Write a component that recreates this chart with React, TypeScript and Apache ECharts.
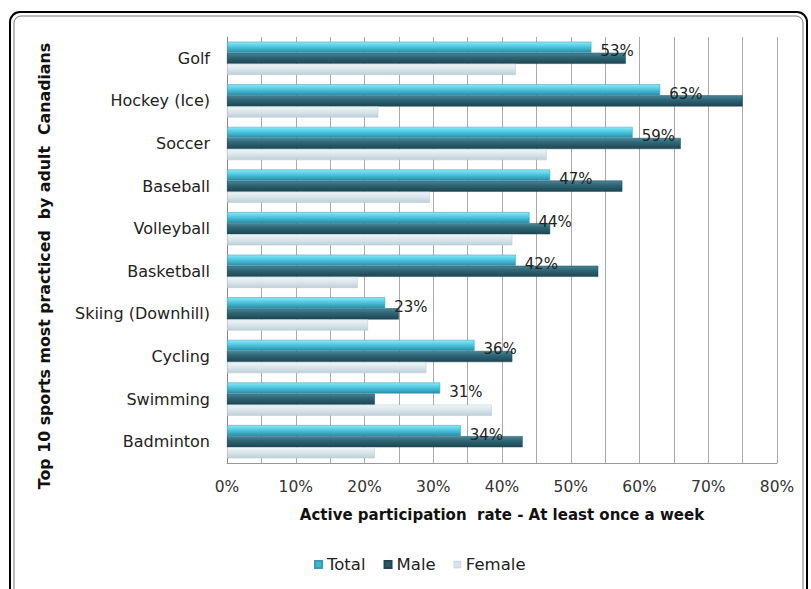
import React, { useEffect, useRef } from "react";
import * as echarts from "echarts";

const categories = [
  "Golf",
  "Hockey (Ice)",
  "Soccer",
  "Baseball",
  "Volleyball",
  "Basketball",
  "Skiing (Downhill)",
  "Cycling",
  "Swimming",
  "Badminton",
];
const totalValues = [53, 63, 59, 47, 44, 42, 23, 36, 31, 34];
const maleValues = [58, 75, 66, 57.5, 47, 54, 25, 41.5, 21.5, 43];
const femaleValues = [42, 22, 46.5, 29.5, 41.5, 19, 20.5, 29, 38.5, 21.5];
const seriesNames = ["Total", "Male", "Female"];
const yTitle = "Top 10 sports most practiced  by adult  Canadians";
const xTitle = "Active participation  rate - At least once a week";

const FONT = "DejaVu Sans, Verdana, sans-serif";

export default function App() {
  const ref = useRef<HTMLDivElement>(null);
  useEffect(() => {
    if (!ref.current) return;
    const chart = echarts.init(ref.current, undefined, { renderer: "svg" });
    const grad = (stops: [number, string][]) =>
      new echarts.graphic.LinearGradient(
        0,
        0,
        0,
        1,
        stops.map(([offset, color]) => ({ offset, color }))
      );
    const totalColor = grad([
      [0, "#8ae9f8"],
      [0.35, "#5acfe6"],
      [0.7, "#3cadc7"],
      [1, "#2c8aa2"],
    ]);
    const maleColor = grad([
      [0, "#4a8898"],
      [0.4, "#2f6675"],
      [1, "#1d4652"],
    ]);
    const femaleColor = grad([
      [0, "#f0f6f8"],
      [0.5, "#d8e5eb"],
      [1, "#bfd0d8"],
    ]);
    chart.setOption({
      animation: false,
      textStyle: { fontFamily: FONT },
      graphic: [
        {
          type: "rect",
          shape: { x: 10, y: 12, width: 797, height: 600, r: 10 },
          style: { fill: "none", stroke: "#000", lineWidth: 2 },
          silent: true,
        },
        {
          type: "rect",
          shape: { x: 14, y: 16, width: 789, height: 600, r: 7 },
          style: { fill: "none", stroke: "#777", lineWidth: 1 },
          silent: true,
        },
        {
          type: "text",
          x: 44,
          y: 266,
          rotation: Math.PI / 2,
          style: {
            text: yTitle,
            fontSize: 15.8,
            fontWeight: "bold",
            fill: "#111",
            fontFamily: FONT,
            align: "center",
            verticalAlign: "middle",
          },
          silent: true,
        },
      ],
      grid: { left: 227, right: 34, top: 37, bottom: 126, containLabel: false },
      legend: {
        top: 551,
        left: 309,
        icon: "rect",
        itemWidth: 7,
        itemHeight: 7,
        itemGap: 18,
        textStyle: { fontSize: 16.5, color: "#222", fontFamily: FONT },
        data: [
          { name: "Total", itemStyle: { color: "#3fb6d2" } },
          { name: "Male", itemStyle: { color: "#27596a" } },
          { name: "Female", itemStyle: { color: "#d5e3ea", borderColor: "#b8c9d1", borderWidth: 0.5 } },
        ],
      },
      xAxis: {
        type: "value",
        min: 0,
        max: 80,
        interval: 5,
        name: xTitle,
        nameLocation: "middle",
        nameGap: 44,
        nameTextStyle: {
          fontSize: 15,
          fontWeight: "bold",
          color: "#111",
          fontFamily: FONT,
        },
        axisLine: { show: true, lineStyle: { color: "#999" } },
        axisTick: { show: false },
        axisLabel: {
          formatter: (v: number) => (v % 10 === 0 ? v + "%" : ""),
          fontSize: 15.5,
          color: "#333",
          margin: 16,
          fontFamily: FONT,
        },
        splitLine: { show: true, lineStyle: { color: "#aaa", width: 1 } },
      },
      yAxis: {
        type: "category",
        inverse: true,
        data: categories,
        axisLine: { show: true, lineStyle: { color: "#888" } },
        axisTick: { show: false },
        axisLabel: {
          fontSize: 16,
          color: "#222",
          margin: 17,
          fontFamily: FONT,
        },
      },
      series: [
        {
          name: seriesNames[0],
          type: "bar",
          data: totalValues,
          barCategoryGap: "22%",
          barGap: "0%",
          itemStyle: { color: totalColor, borderColor: "#3a9cb4", borderWidth: 0.5 },
          label: {
            show: true,
            position: "right",
            distance: 9,
            offset: [0, 4],
            formatter: "{c}%",
            fontSize: 15,
            color: "#222",
            fontFamily: FONT,
          },
          z: 3,
        },
        {
          name: seriesNames[1],
          type: "bar",
          data: maleValues,
          barGap: "0%",
          itemStyle: { color: maleColor, borderColor: "#1d4652", borderWidth: 0.5 },
          z: 2,
        },
        {
          name: seriesNames[2],
          type: "bar",
          data: femaleValues,
          barGap: "0%",
          itemStyle: { color: femaleColor, borderColor: "#b8c9d1", borderWidth: 0.5 },
          z: 2,
        },
      ],
    });
    return () => chart.dispose();
  }, []);
  return (
    <div
      ref={ref}
      style={{ position: "fixed", left: 0, top: 0, width: 811, height: 589, background: "#fff" }}
    />
  );
}
